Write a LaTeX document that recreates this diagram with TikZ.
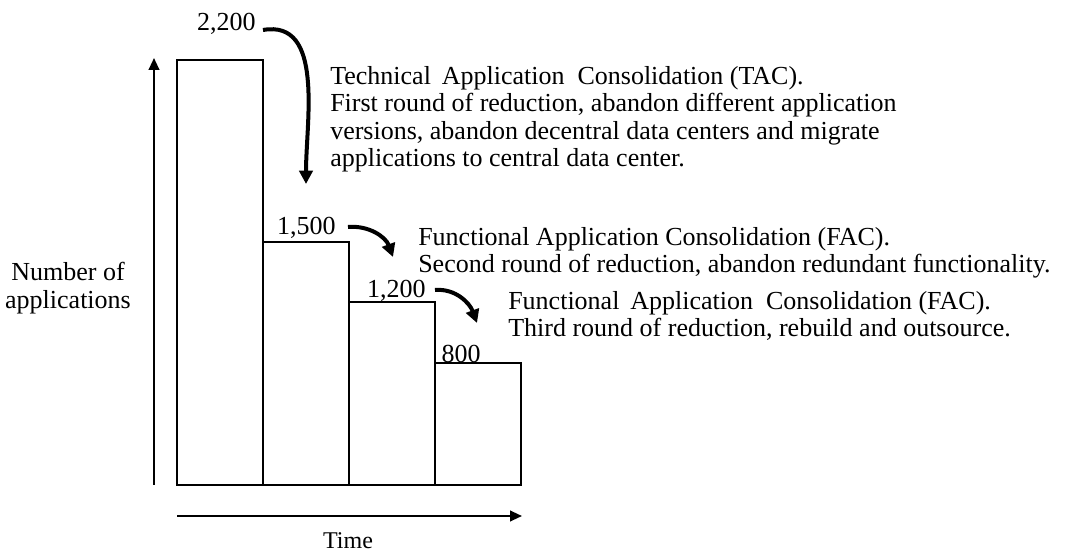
\documentclass[tikz,border=0pt]{standalone}
\usepackage{fontspec}
\setmainfont{Liberation Serif}
\usetikzlibrary{arrows.meta}
\begin{document}
\begin{tikzpicture}[x=0.75pt,y=-0.75pt,
  bar/.style={draw,line width=1.8pt},
  axis/.style={line width=1.5pt,-{Triangle[length=9pt,width=8pt]}},
  curv/.style={line width=3pt,-{Triangle[length=10pt,width=10pt]}},
  lbl/.style={font=\fontsize{19.5}{21}\selectfont,inner sep=0pt},
  txt/.style={font=\fontsize{19.5}{20.6}\selectfont,align=left,inner sep=0pt,anchor=north west}]
\useasboundingbox (0,0) rectangle (1067,555);
\draw[bar] (177,485) rectangle (263,60);
\draw[bar] (263,485) rectangle (349,242);
\draw[bar] (349,485) rectangle (435,302);
\draw[bar] (435,485) rectangle (521,363);
\coordinate (ya) at (154,485);
\coordinate (yb) at (154,58);
\draw[axis] (ya) -- (yb);
\coordinate (xa) at (177,516);
\coordinate (xb) at (522,516);
\draw[axis] (xa) -- (xb);
\node[lbl,font=\fontsize{18}{21}\selectfont] (time) at (348,541) {Time};
\node[lbl,align=center] (ylab) at (68,288) {Number of\\applications};
\node[lbl,anchor=east] (v1) at (256,24) {2,200};
\node[lbl,anchor=east] (v2) at (336,228) {1,500};
\node[lbl,anchor=east] (v3) at (426,291) {1,200};
\node[lbl,anchor=east] (v4) at (481,354) {800};
\coordinate (t1) at (306,184);
\coordinate (t2) at (393,257);
\coordinate (t3) at (477,323);
\draw[curv] (v1.east)+(7,6) to[out=10,in=90] (t1);
\draw[curv] (v2.east)+(12,-1) to[out=5,in=110] (t2);
\draw[curv] (v3.east)+(9,-1) to[out=5,in=110] (t3);
\node[txt] (d1) at (330,66) {Technical\, Application\ \ Consolidation (TAC).\\First round of reduction, abandon different application\\versions, abandon decentral data centers and migrate\\applications to central data center.};
\node[txt] (d2) at (418,227) {Functional Application Consolidation (FAC).\\Second round of reduction, abandon redundant functionality.};
\node[txt] (d3) at (508,291) {Functional\, Application\ \ Consolidation (FAC).\\Third round of reduction, rebuild and outsource.};
\end{tikzpicture}
\end{document}
